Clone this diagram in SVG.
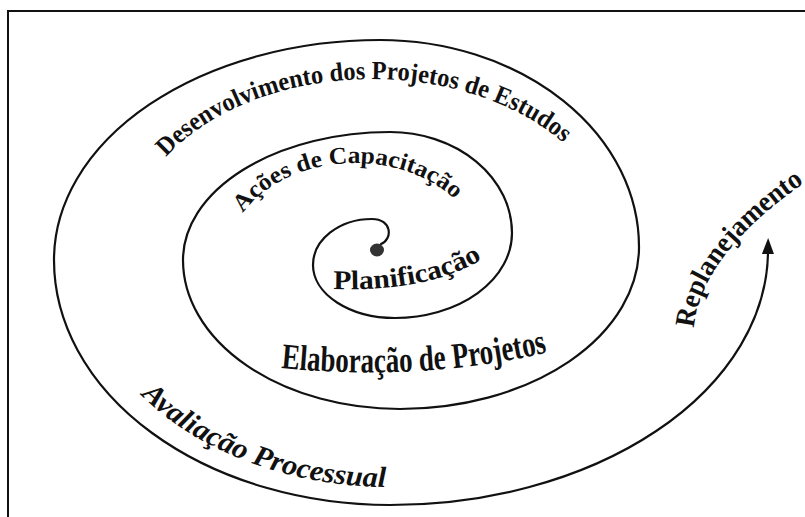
<svg xmlns="http://www.w3.org/2000/svg" xmlns:xlink="http://www.w3.org/1999/xlink" width="805" height="517" viewBox="0 0 805 517">
  <style>
    .frame { fill: none; stroke: #111; stroke-width: 2; }
    .spiral { fill: none; stroke: #111; stroke-width: 2.2; stroke-linecap: round; }
    .lbl { font-family: "Liberation Serif", "Times New Roman", serif; fill: #111; font-weight: bold; }
    .guide { fill: none; stroke: none; }
  </style>
  <defs>
    <marker id="arrowhead" markerUnits="userSpaceOnUse" markerWidth="16" markerHeight="12" refX="2" refY="6" orient="auto">
      <path d="M0,0 L16,6 L0,12 Z" fill="#111"/>
    </marker>
    <!-- baselines for the curved labels -->
    <path id="p-desenv" class="guide" d="M128,247 A244,168 0 0 1 616,247"/>
    <path id="p-acoes" class="guide" d="M227,260 A128,97 0 0 1 483,260"/>
    <path id="p-plan" class="guide" d="M333,289 Q430,292 484,258"/>
    <path id="p-elab" class="guide" d="M281,368 Q420,382 550,352"/>
    <path id="p-aval" class="guide" d="M80,260 A310,227 0 0 0 700,260"/>
    <path id="p-replan" class="guide" d="M694,328 Q700,256 804,183"/>
  </defs>

  <rect width="805" height="517" fill="#fff"/>
  <!-- frame: left and top rules -->
  <path class="frame" d="M8,517 L8,11 L805,11"/>

  <g id="connectors">
    <path id="spiral" class="spiral" marker-end="url(#arrowhead)"
      d="M381,244 C393,239 392,219 372,219
         A59,46 0 0 0 313,265
         A82,53 0 0 0 395,318
         A117,85 0 0 0 512,233
         A122,101 0 0 0 390,132
         A207,128 0 0 0 183,260
         A217,149 0 0 0 400,409
         A239,162 0 0 0 639,247
         A259,207 0 0 0 380,40
         A326,220 0 0 0 54,260
         A336,245 0 0 0 390,505
         A378,255 0 0 0 768,252"/>
  </g>

  <g id="origin">
    <ellipse cx="377" cy="250" rx="7" ry="6.5" fill="#333"/>
  </g>

  <g id="planificacao">
    <text class="lbl" font-size="27"><textPath xlink:href="#p-plan" startOffset="0" textLength="154" lengthAdjust="spacingAndGlyphs">Planificação</textPath></text>
  </g>

  <g id="acoes-capacitacao">
    <text class="lbl" font-size="24"><textPath xlink:href="#p-acoes" startOffset="50" textLength="236" lengthAdjust="spacingAndGlyphs">Ações de Capacitação</textPath></text>
  </g>

  <g id="elaboracao-projetos">
    <text class="lbl" font-size="36"><textPath xlink:href="#p-elab" startOffset="0" textLength="268" lengthAdjust="spacingAndGlyphs">Elaboração de Projetos</textPath></text>
  </g>

  <g id="desenvolvimento">
    <text class="lbl" font-size="26"><textPath xlink:href="#p-desenv" startOffset="100" textLength="432" lengthAdjust="spacingAndGlyphs">Desenvolvimento dos Projetos de Estudos</textPath></text>
  </g>

  <g id="avaliacao-processual">
    <text class="lbl" font-size="29" font-style="italic"><textPath xlink:href="#p-aval" startOffset="152" textLength="268" lengthAdjust="spacingAndGlyphs">Avaliação Processual</textPath></text>
  </g>

  <g id="replanejamento">
    <text class="lbl" font-size="28"><textPath xlink:href="#p-replan" startOffset="0" textLength="188" lengthAdjust="spacingAndGlyphs">Replanejamento</textPath></text>
  </g>
</svg>
